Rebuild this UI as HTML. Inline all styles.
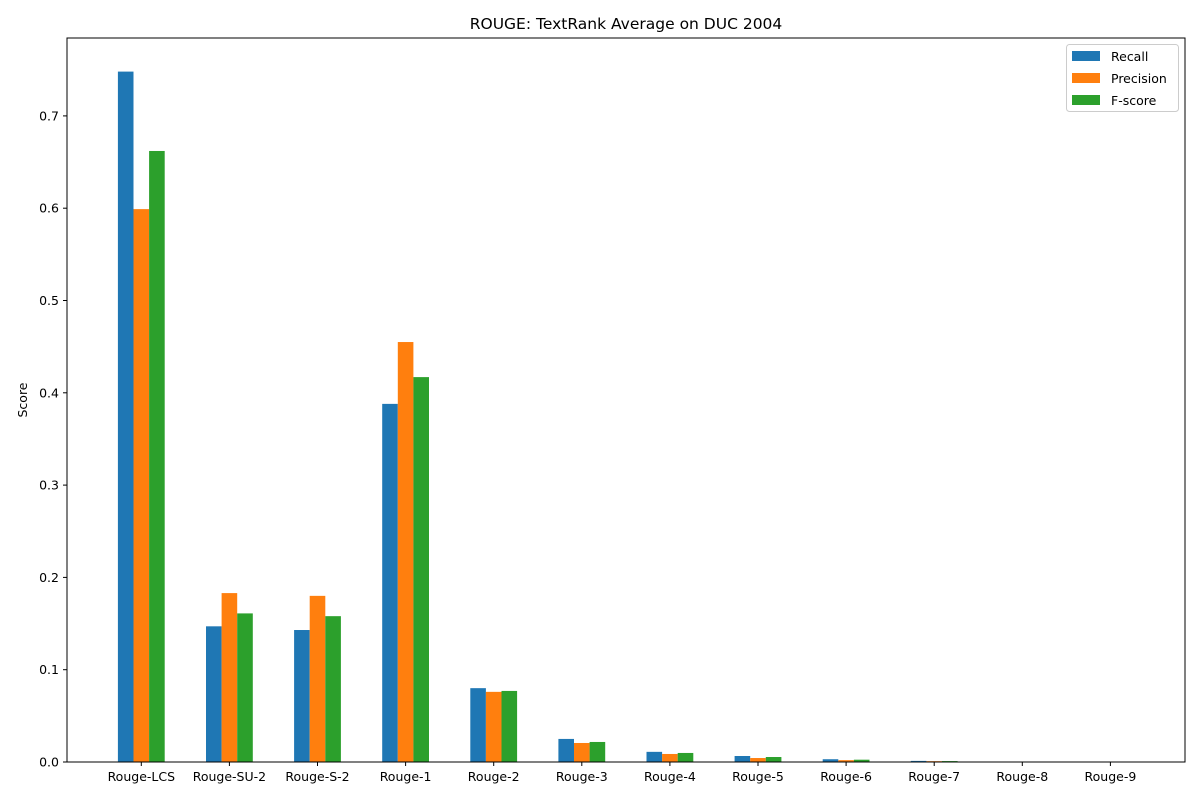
<!DOCTYPE html>
<html><head><meta charset="utf-8"><style>body{margin:0;background:#fff}svg{display:block;font-family:"DejaVu Sans","Liberation Sans",sans-serif}</style></head>
<body>
<svg id="chart" width="1200" height="800" viewBox="0 0 1200 800" xmlns="http://www.w3.org/2000/svg"></svg>
<script>
const categories=["Rouge-LCS","Rouge-SU-2","Rouge-S-2","Rouge-1","Rouge-2","Rouge-3","Rouge-4","Rouge-5","Rouge-6","Rouge-7","Rouge-8","Rouge-9"];
const recall=[0.748,0.147,0.143,0.388,0.080,0.025,0.011,0.0065,0.003,0.0012,0.0004,0.0001];
const precision=[0.599,0.183,0.180,0.455,0.076,0.0206,0.0087,0.0043,0.002,0.0009,0.0003,0.0001];
const fscore=[0.662,0.161,0.158,0.417,0.077,0.0217,0.0098,0.0054,0.0025,0.001,0.0003,0.0001];
const yTicks=[0,0.1,0.2,0.3,0.4,0.5,0.6,0.7];
const yTickLabels=["0.0","0.1","0.2","0.3","0.4","0.5","0.6","0.7"];
const seriesNames=["Recall","Precision","F-score"];
const colors=["#1f77b4","#ff7f0e","#2ca02c"];
const NS="http://www.w3.org/2000/svg",svg=document.getElementById('chart');
const L=67,R=1185,T=38,B=762;
const y=v=>B-v*923;
const x=i=>141.3+88.1*i;
const bw=15.6;
function el(t,a,p){const e=document.createElementNS(NS,t);for(const k in a)e.setAttribute(k,a[k]);(p||svg).appendChild(e);return e;}
const series=[recall,precision,fscore];
series.forEach((s,si)=>{s.forEach((v,i)=>{
 const r=el('rect',{x:x(i)+(si-1)*bw-bw/2,y:y(v),width:bw,height:B-y(v),fill:colors[si]});
 
 
});});
const frame=el('rect',{x:L,y:T,width:R-L,height:B-T,fill:'none',stroke:'#000','stroke-width':1});

categories.forEach((c,i)=>{
 el('line',{x1:x(i),x2:x(i),y1:B,y2:B+4,stroke:'#000'});
 const t=el('text',{x:x(i),y:B+19,'text-anchor':'middle','font-size':12.5});t.textContent=c;
 
});
yTicks.forEach((v,i)=>{
 el('line',{x1:L-4,x2:L,y1:y(v),y2:y(v),stroke:'#000'});
 const t=el('text',{x:L-8,y:y(v)+4.5,'text-anchor':'end','font-size':12.5});t.textContent=yTickLabels[i];
 
});
const yt=el('text',{x:27,y:400,'text-anchor':'middle','font-size':12.5,transform:'rotate(-90 27 400)'});yt.textContent='Score';

const tt=el('text',{x:626,y:29,'text-anchor':'middle','font-size':15.5});tt.textContent='ROUGE: TextRank Average on DUC 2004';

const lg=el('g',{});
el('rect',{x:1066.5,y:44.5,width:112,height:67,rx:3,fill:'#fff',stroke:'#ccc'},lg);
seriesNames.forEach((n,i)=>{
 el('rect',{x:1072,y:51+i*22,width:28,height:10,fill:colors[i]},lg);
 const t=el('text',{x:1111,y:61+i*22,'font-size':12.5},lg);t.textContent=n;
 
});
</script>
</body></html>
